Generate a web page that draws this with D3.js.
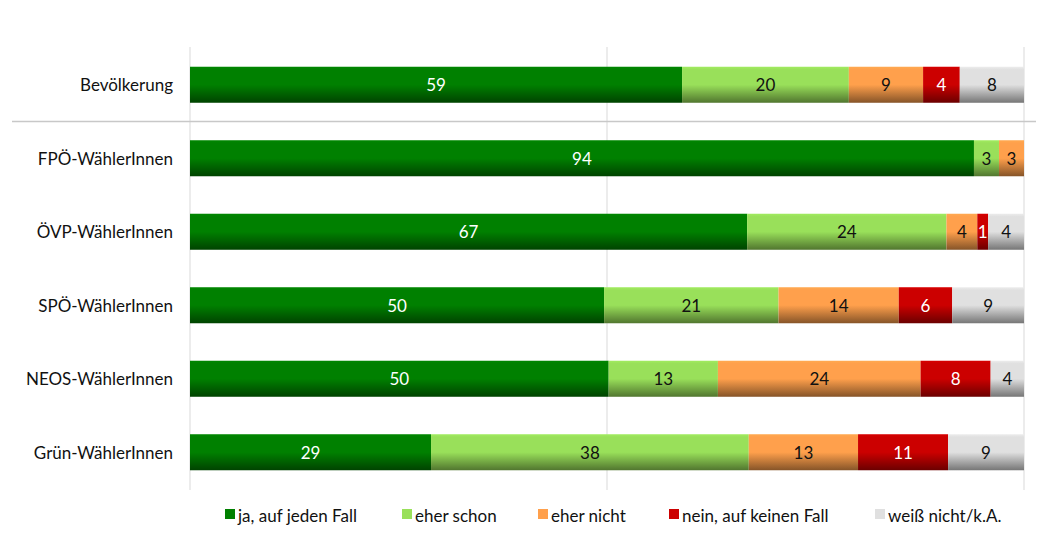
<!DOCTYPE html>
<html><head><meta charset="utf-8">
<script src="https://cdn.jsdelivr.net/npm/d3@7"></script>
<style>
body{margin:0;background:#fff;}
text{font-family:Lato,"Open Sans",sans-serif;}
</style></head>
<body><svg id="c" width="1039" height="540"></svg>
<script>
const categories = ["Bevölkerung","FPÖ-WählerInnen","ÖVP-WählerInnen","SPÖ-WählerInnen","NEOS-WählerInnen","Grün-WählerInnen"];
const seriesNames = ["ja, auf jeden Fall","eher schon","eher nicht","nein, auf keinen Fall","weiß nicht/k.A."];
const jaAufJedenFall = [59.0,94.0,66.8,49.6,50.2,28.9];
const eherSchon      = [20.0,3.0,23.9,20.9,13.1,38.1];
const eherNicht      = [8.9,3.0,3.7,14.4,24.3,13.1];
const neinAufKeinen  = [4.4,0,1.3,6.4,8.4,10.8];
const weissNicht     = [7.7,0,4.3,8.6,4.0,9.1];
const colors = ["#008000","#99E05A","#FFA04C","#CC0000","#E0E0E0"];
const labelColors = ["#fff","#111","#111","#fff","#111"];

const seriesVals = [jaAufJedenFall,eherSchon,eherNicht,neinAufKeinen,weissNicht];
const rows = categories.map((c,i)=>{
  const o={cat:c};
  seriesNames.forEach((s,j)=>o[s]=seriesVals[j][i]);
  return o;
});

const svg = d3.select("#c");
const x = d3.scaleLinear().domain([0,1]).range([190,1024]);
const y = d3.scaleBand().domain(categories).range([48,489]).paddingInner(0.51).paddingOuter(0.255);
const fmt = d3.format(".0f");

const defs = svg.append("defs");
colors.forEach((c,i)=>{
  const g = defs.append("linearGradient").attr("id","g"+i).attr("x1",0).attr("y1",0).attr("x2",0).attr("y2",1);
  g.append("stop").attr("offset","0").attr("stop-color",d3.color(c).brighter(0.15));
  g.append("stop").attr("offset","0.08").attr("stop-color",c);
  g.append("stop").attr("offset","0.5").attr("stop-color",c);
  g.append("stop").attr("offset","1").attr("stop-color",d3.color(c).darker(1.8));
});

// gridlines
[0,0.5,1].forEach(v=>{
  svg.append("line").attr("x1",x(v)).attr("x2",x(v)).attr("y1",47).attr("y2",490)
    .attr("stroke","#d9d9d9").attr("stroke-width",1);
});
// separator
svg.append("line").attr("x1",12).attr("x2",1036).attr("y1",121.5).attr("y2",121.5)
  .attr("stroke","#c8c8c8").attr("stroke-width",1.5);

const stack = d3.stack().keys(seriesNames).offset(d3.stackOffsetExpand);
const stacked = stack(rows);

stacked.forEach((layer,i)=>{
  const g = svg.append("g");
  const segs = layer.filter(d=>d[1]-d[0]>0);
  g.selectAll("rect").data(segs).join("rect")
    .attr("x",d=>x(d[0])).attr("width",d=>x(d[1])-x(d[0]))
    .attr("y",d=>y(d.data.cat)).attr("height",y.bandwidth())
    .attr("fill","url(#g"+i+")");
  g.selectAll("text").data(segs).join("text")
    .attr("x",d=>(x(d[0])+x(d[1]))/2).attr("y",d=>y(d.data.cat)+y.bandwidth()/2)
    .attr("text-anchor","middle").attr("dominant-baseline","central")
    .attr("font-size",17).attr("fill",labelColors[i])
    .text(d=>fmt(d.data[layer.key]));
});

// category labels
svg.append("g").selectAll("text").data(categories).join("text")
  .attr("x",173).attr("y",d=>y(d)+y.bandwidth()/2)
  .attr("text-anchor","end").attr("dominant-baseline","central")
  .attr("font-size",17).attr("fill","#111").text(d=>d);

// legend
const legX = [225,402,538,669,875];
const leg = svg.append("g");
seriesNames.forEach((s,i)=>{
  leg.append("rect").attr("x",legX[i]).attr("y",509).attr("width",10).attr("height",10).attr("fill",colors[i]);
  leg.append("text").attr("x",legX[i]+13).attr("y",515).attr("dominant-baseline","central")
    .attr("font-size",17).attr("fill","#111").text(s);
});
</script></body></html>
